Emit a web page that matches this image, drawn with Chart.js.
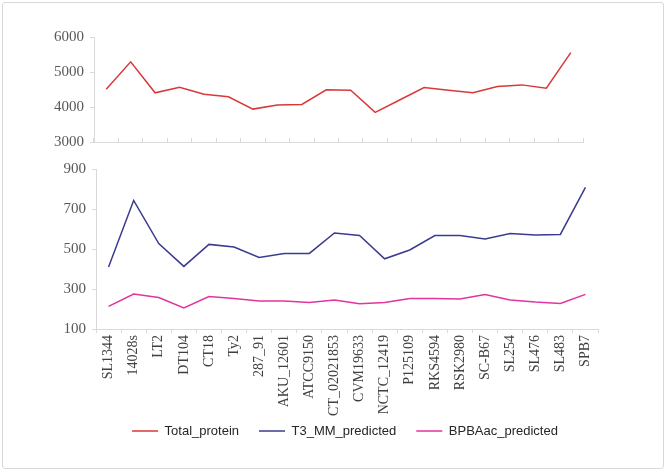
<!DOCTYPE html>
<html>
<head>
<meta charset="utf-8">
<script src="https://cdn.jsdelivr.net/npm/chart.js@4/dist/chart.umd.min.js"></script>
<style>
    body { margin: 0; background: #fff; }
    #frame {
        position: absolute; left: 2px; top: 2px;
        width: 660px; height: 465px;
        border: 1px solid #d9d9d9; border-radius: 3px;
    }
    #top-wrap { position: absolute; left: 0; top: 0; width: 666px; height: 471px; }
    #bottom-wrap { position: absolute; left: 0; top: 150px; width: 666px; height: 321px; }
</style>
</head>
<body>
<div id="frame"></div>
<div id="top-wrap"><canvas id="chart-top"></canvas></div>
<div id="bottom-wrap"><canvas id="chart-bottom"></canvas></div>

<script>
// strains on the x axis
const strains = ['SL1344', '14028s', 'LT2', 'DT104', 'CT18', 'Ty2', '287_91', 'AKU_12601',
    'ATCC9150', 'CT_02021853', 'CVM19633', 'NCTC_12419', 'P125109', 'RKS4594', 'RSK2980',
    'SC-B67', 'SL254', 'SL476', 'SL483', 'SPB7'];

// upper panel
const totalProtein = [4510, 5290, 4405, 4567, 4367, 4290, 3940, 4054, 4074, 4490,
    4480, 3846, 4200, 4558, 4480, 4405, 4587, 4632, 4538, 5555];

// lower panel
const t3Predicted = [410, 743, 527, 413, 523, 510, 458, 478, 478, 580,
    568, 451, 495, 567, 567, 550, 578, 570, 573, 808];
const bpbaPredicted = [213, 275, 257, 205, 262, 252, 240, 240, 233, 245,
    226, 233, 253, 253, 250, 272, 245, 235, 228, 273];

// axis ranges
const topTicks = { min: 3000, max: 6000, step: 1000 };
const bottomTicks = { min: 100, max: 900, step: 200 };

const RED = '#d9383a';
const NAVY = '#3b3b8f';
const PINK = '#e2339f';
const AXIS = '#d9d9d9';

const tickFont = { family: 'Liberation Serif', size: 15 };
const labelFont = { family: 'Liberation Serif', size: 14 };

// helper: fixed axis size so both panels line up like the original
const fixWidth = w => scale => { scale.width = w; };
const fixHeight = h => scale => { scale.height = h; };
// plain numbers, no thousands separator
const plain = v => String(v);

const lineStyle = color => ({
    borderColor: color,
    backgroundColor: color,
    borderWidth: 1.5,
    pointRadius: 0,
    tension: 0
});

// top panel: Total_protein, also carries the legend for the whole figure
new Chart(document.getElementById('chart-top'), {
    type: 'line',
    data: {
        labels: strains,
        datasets: [
            { label: 'Total_protein', data: totalProtein, ...lineStyle(RED) },
            // lower panel series, drawn in the other chart; here only for the legend
            { label: 'T3_MM_predicted', data: [], ...lineStyle(NAVY) },
            { label: 'BPBAac_predicted', data: [], ...lineStyle(PINK) }
        ]
    },
    options: {
        responsive: true,
        maintainAspectRatio: false,
        animation: false,
        layout: { padding: { left: 24, right: 0, top: 37, bottom: 23.5 } },
        plugins: {
            tooltip: { enabled: false },
            legend: {
                position: 'bottom',
                onClick: null,
                labels: {
                    usePointStyle: true,
                    pointStyle: 'line',
                    pointStyleWidth: 26,
                    boxHeight: 13,
                    padding: 20,
                    color: '#262626',
                    font: { family: 'Liberation Sans', size: 13 }
                }
            }
        },
        scales: {
            x: {
                offset: true,
                // small tick marks pointing up into the plot
                grid: { offset: true, drawOnChartArea: false, color: AXIS, tickLength: -4 },
                border: { color: AXIS },
                ticks: { display: false },
                // leaves room for the lower panel between axis and legend
                afterFit: fixHeight(262.5)
            },
            y: {
                min: topTicks.min, max: topTicks.max,
                grid: { drawOnChartArea: false, color: AXIS, tickLength: 4 },
                border: { color: AXIS },
                ticks: { stepSize: topTicks.step, font: tickFont, color: '#595959', padding: 6, callback: plain },
                afterFit: fixWidth(70)
            },
            yRight: {
                position: 'right',
                grid: { display: false },
                border: { display: false },
                ticks: { display: false },
                afterFit: fixWidth(83)
            }
        }
    }
});

// bottom panel: predictions
new Chart(document.getElementById('chart-bottom'), {
    type: 'line',
    data: {
        labels: strains,
        datasets: [
            { label: 'T3_MM_predicted', data: t3Predicted, ...lineStyle(NAVY) },
            { label: 'BPBAac_predicted', data: bpbaPredicted, ...lineStyle(PINK) }
        ]
    },
    options: {
        responsive: true,
        maintainAspectRatio: false,
        animation: false,
        layout: { padding: { left: 0, right: 68, top: 19, bottom: 0 } },
        plugins: { legend: { display: false }, tooltip: { enabled: false } },
        scales: {
            x: {
                offset: true,
                grid: { offset: true, drawOnChartArea: false, color: AXIS, tickLength: 4 },
                border: { color: AXIS },
                ticks: {
                    autoSkip: false, minRotation: 90, maxRotation: 90,
                    font: labelFont, color: '#404040', padding: 2
                },
                afterFit: fixHeight(142)
            },
            y: {
                min: bottomTicks.min, max: bottomTicks.max,
                grid: { drawOnChartArea: false, color: AXIS, tickLength: 4 },
                border: { color: AXIS },
                ticks: { stepSize: bottomTicks.step, font: tickFont, color: '#595959', padding: 6, callback: plain },
                afterFit: fixWidth(96)
            }
        }
    }
});
</script>
</body>
</html>
